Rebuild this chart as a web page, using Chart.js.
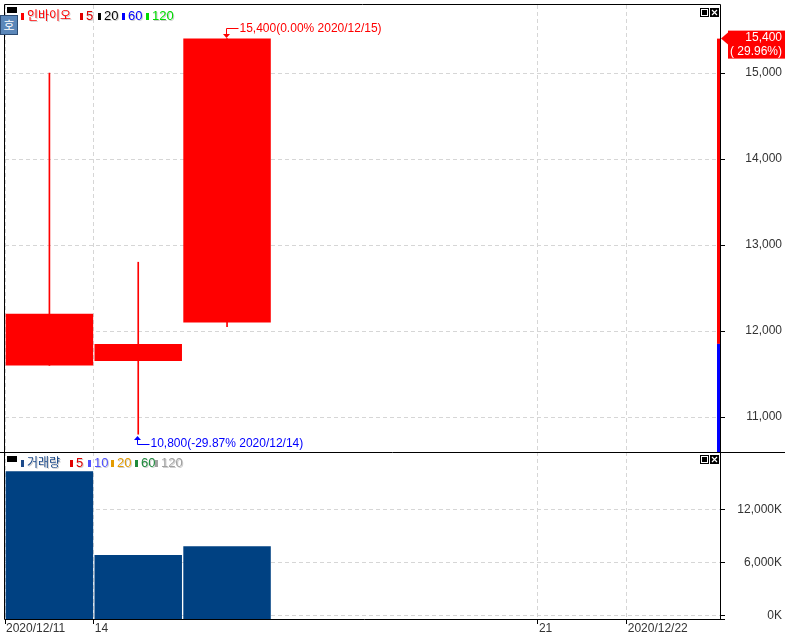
<!DOCTYPE html>
<html>
<head>
<meta charset="utf-8">
<script src="https://cdn.jsdelivr.net/npm/chart.js"></script>
<style>
body { margin: 0; background: #fff; }
#wrap { position: relative; width: 785px; height: 635px; overflow: hidden; }
canvas { position: absolute; left: 0; }
#price { top: 0; }
#vol { top: 452px; }
.lg { position: absolute; white-space: nowrap; line-height: 1; text-shadow: 1px 1px 0 #cfcfcf; }
.mk { position: absolute; width: 3px; height: 7px; }
.kr { font-family: 'Noto Sans CJK KR', sans-serif; font-size: 12px; }
.num { font-family: 'Liberation Sans', sans-serif; font-size: 13px; }
#hobtn { position: absolute; left: 0; top: 15px; width: 16px; height: 18px; background: #5b87b9; border: 1px solid #2c4c74;
  color: #fff; font-family: 'Noto Sans CJK KR', sans-serif; font-size: 12px; line-height: 18px; text-align: center; }
.blk { position: absolute; width: 10px; height: 6px; background: #000; }
</style>
</head>
<body>
<div id="wrap">
  <canvas id="price" width="785" height="452"></canvas>
  <canvas id="vol" width="785" height="183"></canvas>
  <div class="blk" style="left:7px;top:7px"></div>
  <div id="hobtn">호</div>
  <div class="blk" style="left:7px;top:456px"></div>
  <div id="legends"></div>
</div>
<script>
// chart values
var dates = ['2020/12/11', '2020/12/14', '2020/12/15', '2020/12/16', '2020/12/17', '2020/12/18', '2020/12/21', '2020/12/22'];
var tickLabels = ['2020/12/11', '14', '', '', '', '', '21', '2020/12/22'];
var shownTicks = [0, 1, 6, 7];
var openPrices = [11600, 11650, 12100];
var closePrices = [12200, 11850, 15400];
var highPrices = [15000, 12800, 15400];
var lowPrices = [11600, 10800, 12050];
var volumes = [16400, 6900, 7900]; // 천주 (K)
var prevClose = 11850;
var priceTicks = [11000, 12000, 13000, 14000, 15000];
var volumeTicks = [0, 6000, 12000];

var priceLegend = [
	{ label: '인바이오', color: '#ff0000', kr: true },
	{ label: '5', color: '#e00000' },
	{ label: '20', color: '#000000' },
	{ label: '60', color: '#0000ff' },
	{ label: '120', color: '#00dd00' }
];
var volumeLegend = [
	{ label: '거래량', color: '#1c4a8a', kr: true },
	{ label: '5', color: '#e00000' },
	{ label: '10', color: '#5050ff' },
	{ label: '20', color: '#e39b00' },
	{ label: '60', color: '#1e8a3c' },
	{ label: '120', color: '#a0a0a0' }
];

var numFont = "'Liberation Sans', sans-serif";
var upColor = '#ff0000';
var downColor = '#0000ff';
var gridColor = '#d6d6d6';
var axisWidth = 62;
var slotMax = 8.05;

// legends as html text
function buildLegend(items, xs, top) {
	var box = document.getElementById('legends');
	items.forEach(function (it, i) {
		var mk = document.createElement('div');
		mk.className = 'mk';
		mk.style.left = xs[i] + 'px';
		mk.style.top = (top + 3) + 'px';
		mk.style.background = it.color;
		box.appendChild(mk);
		var t = document.createElement('div');
		t.className = 'lg ' + (it.kr ? 'kr' : 'num');
		t.style.left = (xs[i] + 6) + 'px';
		t.style.top = (top - 1) + 'px';
		t.style.color = it.color;
		t.textContent = it.label;
		box.appendChild(t);
	});
}
buildLegend(priceLegend, [21, 80, 98, 122, 146], 10);
buildLegend(volumeLegend, [21, 70, 88, 111, 135, 155], 457);

function fmt(v) { return v.toLocaleString('en-US'); }

var tickLen = 5;
// fixed axis width, no extra space above/below for the labels
function rightLabels(s) {
	s.width = axisWidth;
	s.paddingTop = 0;
	s.paddingBottom = 0;
}

function drawIcons(ctx, x, y) {
	ctx.save();
	ctx.fillStyle = '#000';
	ctx.fillRect(x, y, 9, 9);
	ctx.fillStyle = '#fff';
	ctx.fillRect(x + 1, y + 1, 7, 7);
	ctx.fillStyle = '#000';
	ctx.fillRect(x + 2, y + 2, 5, 5);
	ctx.fillRect(x + 10, y, 9, 9);
	ctx.strokeStyle = '#fff';
	ctx.lineWidth = 1.2;
	ctx.beginPath();
	ctx.moveTo(x + 12, y + 2); ctx.lineTo(x + 17, y + 7);
	ctx.moveTo(x + 17, y + 2); ctx.lineTo(x + 12, y + 7);
	ctx.stroke();
	ctx.restore();
}

function yTicks(fmtFn) {
	return {
		callback: fmtFn,
		color: '#333',
		font: { family: numFont, size: 12 },
		crossAlign: 'far'
	};
}

var xCommon = {
	type: 'linear',
	min: 0,
	max: slotMax,
	offset: false,
	afterBuildTicks: function (s) { s.ticks = shownTicks.map(function (v) { return { value: v }; }); },
	border: { display: false, dash: [4, 3] }
};

var candleData = openPrices.map(function (o, i) { return { x: i + 0.5, y: [o, closePrices[i]] }; });
var wickData = lowPrices.map(function (l, i) { return { x: i + 0.5, y: [l, highPrices[i]] }; });
var candleColors = openPrices.map(function (o, i) { return closePrices[i] >= o ? upColor : downColor; });

var pricePlugin = {
	id: 'priceExtras',
	afterDatasetsDraw: function (chart) {
		var ctx = chart.ctx, a = chart.chartArea;
		var xs = chart.scales.x, ys = chart.scales.y;
		var last = closePrices[closePrices.length - 1];
		ctx.save();
		// gauge at right edge
		var pLast = ys.getPixelForValue(last), pPrev = ys.getPixelForValue(prevClose);
		ctx.fillStyle = last >= prevClose ? upColor : downColor;
		ctx.fillRect(a.right - 3, Math.min(pLast, pPrev), 3, Math.abs(pPrev - pLast));
		ctx.fillStyle = downColor;
		ctx.fillRect(a.right - 3, pPrev, 3, a.bottom - pPrev);

		// frame
		ctx.strokeStyle = '#000';
		ctx.lineWidth = 1;
		ctx.beginPath();
		ctx.moveTo(a.left - 0.5, a.bottom);
		ctx.lineTo(a.left - 0.5, a.top - 0.5);
		ctx.lineTo(a.right + 0.5, a.top - 0.5);
		ctx.lineTo(a.right + 0.5, a.bottom);
		ctx.stroke();

		// high / low marks
		ctx.font = '12px ' + numFont;
		ctx.textBaseline = 'middle';
		ctx.textAlign = 'left';
		var hi = highPrices.indexOf(Math.max.apply(null, highPrices));
		var lo = lowPrices.indexOf(Math.min.apply(null, lowPrices));
		function pct(v) { var p = (v - last) / last * 100; return (p < 0 ? '-' : '') + Math.abs(p).toFixed(2) + '%'; }
		var hx = Math.round(xs.getPixelForValue(hi + 0.5)) - 0.5, hy = Math.round(ys.getPixelForValue(highPrices[hi]));
		ctx.strokeStyle = upColor; ctx.fillStyle = upColor;
		ctx.beginPath();
		ctx.moveTo(hx, hy - 3); ctx.lineTo(hx, hy - 10.5); ctx.lineTo(hx + 12, hy - 10.5);
		ctx.stroke();
		ctx.beginPath(); ctx.moveTo(hx - 3.5, hy - 5); ctx.lineTo(hx + 3.5, hy - 5); ctx.lineTo(hx, hy - 1); ctx.fill();
		ctx.fillText(fmt(highPrices[hi]) + '(' + pct(highPrices[hi]) + ' ' + dates[hi] + ')', hx + 13, hy - 10);

		var lx = Math.round(xs.getPixelForValue(lo + 0.5)) - 0.5, ly = Math.round(ys.getPixelForValue(lowPrices[lo]));
		ctx.strokeStyle = downColor; ctx.fillStyle = downColor;
		ctx.beginPath();
		ctx.moveTo(lx, ly + 4); ctx.lineTo(lx, ly + 10.5); ctx.lineTo(lx + 12, ly + 10.5);
		ctx.stroke();
		ctx.beginPath(); ctx.moveTo(lx - 3.5, ly + 6); ctx.lineTo(lx + 3.5, ly + 6); ctx.lineTo(lx, ly + 2); ctx.fill();
		ctx.fillText(fmt(lowPrices[lo]) + '(' + pct(lowPrices[lo]) + ' ' + dates[lo] + ')', lx + 13, ly + 10);

		// current price box
		var bx = a.right + 8;
		ctx.fillStyle = upColor;
		ctx.beginPath();
		ctx.moveTo(a.right + 1, pLast); ctx.lineTo(bx, pLast - 6); ctx.lineTo(bx, pLast + 6); ctx.fill();
		ctx.fillRect(bx, pLast - 8, chart.width - bx, 28);
		ctx.fillStyle = '#fff';
		ctx.textAlign = 'right';
		var chg = (last - prevClose) / prevClose * 100;
		ctx.fillText(fmt(last), chart.width - 3, pLast - 1);
		ctx.fillText('( ' + chg.toFixed(2) + '%)', chart.width - 3, pLast + 13);

		drawIcons(ctx, a.right - 20, 8);
		ctx.restore();
	}
};

new Chart(document.getElementById('price'), {
	type: 'bar',
	data: {
		datasets: [{
			data: candleData,
			backgroundColor: candleColors,
			barPercentage: 0.985,
			categoryPercentage: 1,
			grouped: false,
			order: 1
		}, {
			data: wickData,
			backgroundColor: candleColors,
			barThickness: 1,
			grouped: false,
			order: 2
		}]
	},
	options: {
		responsive: false,
		animation: false,
		layout: { padding: { left: 5, top: 5, right: 3, bottom: 0 } },
		plugins: { legend: { display: false }, tooltip: { enabled: false } },
		scales: {
			x: Object.assign({}, xCommon, {
				ticks: { display: false },
				grid: { color: gridColor, drawTicks: false, offset: false },
				afterFit: function (s) { s.height = 0; s.paddingLeft = 0; s.paddingRight = 0; }
			}),
			y: {
				position: 'right',
				min: 10593,
				max: 15791,
				afterBuildTicks: function (s) { s.ticks = priceTicks.map(function (v) { return { value: v }; }); },
				ticks: yTicks(function (v) { return fmt(v); }),
				grid: { color: gridColor, tickColor: '#000', tickLength: tickLen, tickBorderDash: [] },
				border: { display: false, dash: [4, 3] },
				afterFit: rightLabels
			}
		}
	},
	plugins: [pricePlugin]
});

var volPlugin = {
	id: 'volExtras',
	afterDatasetsDraw: function (chart) {
		var ctx = chart.ctx, a = chart.chartArea;
		ctx.save();
		ctx.strokeStyle = '#000';
		ctx.lineWidth = 1;
		ctx.beginPath();
		ctx.moveTo(0, 0.5); ctx.lineTo(chart.width, 0.5);
		ctx.moveTo(a.left - 0.5, 0); ctx.lineTo(a.left - 0.5, a.bottom + 0.5);
		ctx.lineTo(a.right + 5, a.bottom + 0.5);
		ctx.moveTo(a.right + 0.5, 0); ctx.lineTo(a.right + 0.5, a.bottom + 0.5);
		ctx.stroke();
		drawIcons(ctx, a.right - 20, 3);
		ctx.restore();
	}
};

new Chart(document.getElementById('vol'), {
	type: 'bar',
	data: {
		datasets: [{
			data: volumes.map(function (v, i) { return { x: i + 0.5, y: v }; }),
			backgroundColor: '#004182',
			barPercentage: 0.985,
			categoryPercentage: 1,
			base: -340
		}]
	},
	options: {
		responsive: false,
		animation: false,
		layout: { padding: { left: 5, top: 0, right: 3, bottom: 0 } },
		plugins: { legend: { display: false }, tooltip: { enabled: false } },
		scales: {
			x: Object.assign({}, xCommon, {
				ticks: {
					callback: function (v) { return tickLabels[v]; },
					align: 'start',
					labelOffset: 1,
					padding: -3,
					color: '#333',
					font: { family: numFont, size: 12 },
					maxRotation: 0,
					autoSkip: false
				},
				grid: { color: gridColor, tickColor: '#000', tickLength: tickLen, tickBorderDash: [], offset: false },
				afterFit: function (s) { s.height = 16; s.paddingLeft = 0; s.paddingRight = 0; }
			}),
			y: {
				position: 'right',
				min: -340,
				max: 18566,
				afterBuildTicks: function (s) { s.ticks = volumeTicks.map(function (v) { return { value: v }; }); },
				ticks: yTicks(function (v) { return fmt(v) + 'K'; }),
				grid: { color: gridColor, tickColor: '#000', tickLength: tickLen, tickBorderDash: [] },
				border: { display: false, dash: [4, 3] },
				afterFit: rightLabels
			}
		}
	},
	plugins: [volPlugin]
});
</script>
</body>
</html>
